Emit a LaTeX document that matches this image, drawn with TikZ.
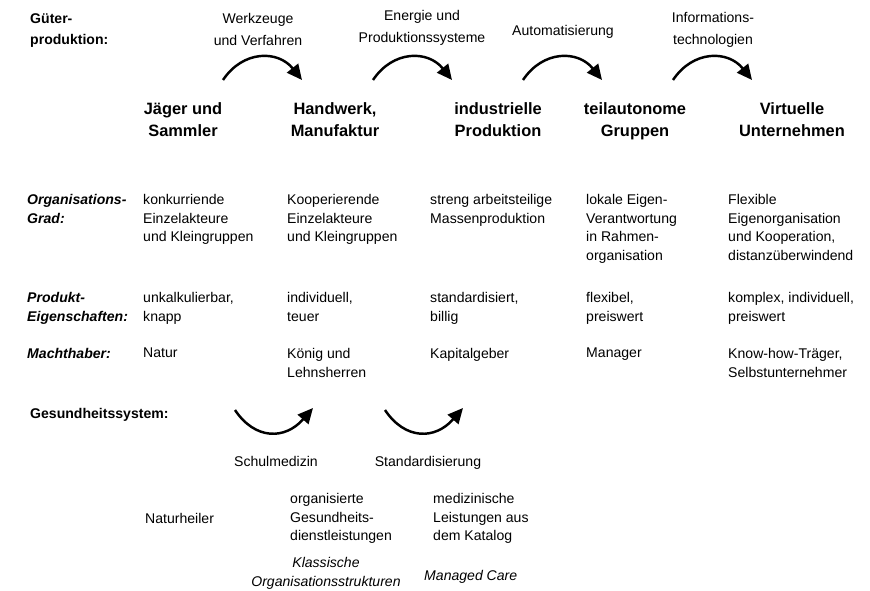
\documentclass[tikz,border=0pt]{standalone}
\usepackage{fontspec}
\setmainfont{Liberation Sans}
\usetikzlibrary{arrows.meta}
\tikzset{
  cell/.style={anchor=north west, inner sep=0pt, align=left, font=\fontsize{12}{16}\selectfont},
  rowlabel/.style={cell, font=\fontsize{12}{16}\selectfont\bfseries\itshape},
  stage/.style={anchor=north, inner sep=0pt, align=center, font=\fontsize{14}{19.5}\selectfont\bfseries},
  means/.style={anchor=north, inner sep=0pt, align=center, font=\fontsize{12}{18.7}\selectfont},
  curl/.style={line width=2.1pt, -{Triangle[length=13pt,width=12pt]}},
}
\begin{document}
\begin{tikzpicture}[x=0.03cm, y=-0.03cm]
\useasboundingbox (0,0) rectangle (870,591);
% Gueterproduktion
\node[cell, font=\fontsize{12}{18.7}\selectfont\bfseries] (gueter) at (30,13) {Güter-\\produktion:};
\node[means] (werkzeuge) at (258,13) {Werkzeuge\\und Verfahren};
\node[means] (energie) at (422,10) {Energie und\\Produktionssysteme};
\node[means] (automat) at (563,25) {Automatisierung};
\node[means] (infotech) at (713,12) {Informations-\\technologien};
\foreach \s in {223,373,523,673}
  \draw[curl] (\s,80) .. controls ({\s+20},50) and ({\s+55},50) .. ({\s+79},80);
\node[stage] (jaeger) at (183,102) {Jäger und\\Sammler};
\node[stage] (handwerk) at (335,102) {Handwerk,\\Manufaktur};
\node[stage] (industrie) at (498,102) {industrielle\\Produktion};
\node[stage] (teilauto) at (635,102) {teilautonome\\Gruppen};
\node[stage] (virtuell) at (792,102) {Virtuelle\\Unternehmen};

%------------------------------------------------
\node[rowlabel] (orggrad) at (27,194) {Organisations-\\Grad:};
\node[cell] (org1) at (143,194) {konkurriende\\Einzelakteure\\und Kleingruppen};
\node[cell] (org2) at (287,194) {Kooperierende\\Einzelakteure\\und Kleingruppen};
\node[cell] (org3) at (430,194) {streng arbeitsteilige\\Massenproduktion};
\node[cell] (org4) at (586,194) {lokale Eigen-\\Verantwortung\\in Rahmen-\\organisation};
\node[cell] (org5) at (728,194) {Flexible\\Eigenorganisation\\und Kooperation,\\distanzüberwindend};

\node[rowlabel] (produkt) at (27,292) {Produkt-\\Eigenschaften:};
\node[cell] (prod1) at (143,292) {unkalkulierbar,\\knapp};
\node[cell] (prod2) at (287,292) {individuell,\\teuer};
\node[cell] (prod3) at (430,292) {standardisiert,\\billig};
\node[cell] (prod4) at (586,292) {flexibel,\\preiswert};
\node[cell] (prod5) at (728,292) {komplex, individuell,\\preiswert};

\node[rowlabel] (macht) at (27,348) {Machthaber:};
\node[cell] (macht1) at (143,348) {Natur};
\node[cell] (macht2) at (287,348) {König und\\Lehnsherren};
\node[cell] (macht3) at (430,348) {Kapitalgeber};
\node[cell] (macht4) at (586,348) {Manager};
\node[cell] (macht5) at (728,348) {Know-how-Träger,\\Selbstunternehmer};

%------------------------------------------------
% Gesundheitssystem
\node[cell, font=\fontsize{12}{16}\selectfont\bfseries] (gesund) at (30,408) {Gesundheitssystem:};
\foreach \s in {235,385}
  \draw[curl] (\s,410) .. controls ({\s+20},440) and ({\s+50},440) .. ({\s+78},408);
\node[means] (schul) at (276,456) {Schulmedizin};
\node[means] (standard) at (428,456) {Standardisierung};
\node[cell] (natur) at (145,513) {Naturheiler};
\node[cell] (organis) at (290,493) {organisierte\\Gesundheits-\\dienstleistungen};
\node[cell] (medizin) at (433,493) {medizinische\\Leistungen aus\\dem Katalog};
\node[means, font=\fontsize{12}{16}\selectfont\itshape] (klassisch) at (326,557) {Klassische\\Organisationsstrukturen};
\node[cell, font=\fontsize{12}{16}\selectfont\itshape] (managed) at (424,570) {Managed Care};
\end{tikzpicture}
\end{document}
